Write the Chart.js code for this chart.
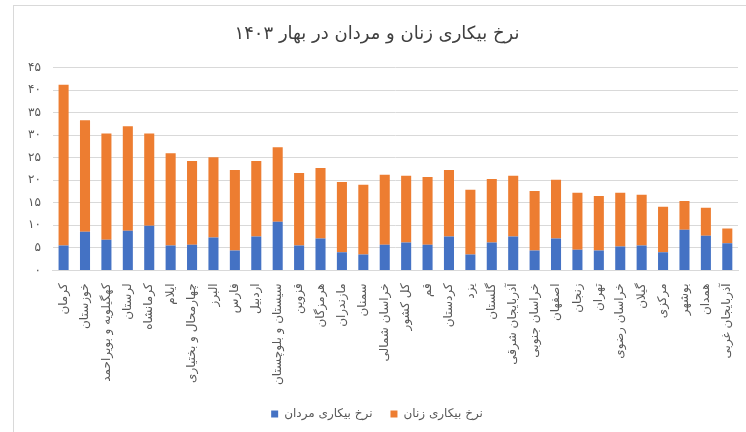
<!DOCTYPE html>
<html lang="fa">
<head>
    <meta charset="UTF-8">
    <title>نرخ بیکاری زنان و مردان در بهار ۱۴۰۳</title>
    <script src="https://cdn.jsdelivr.net/npm/chart.js"></script>
    <style>
        body { margin: 0; background: #fff; }
        #frame {
            position: absolute; left: 13px; top: 5px;
            width: 733px; height: 427px;
            border-left: 1px solid #d9d9d9; border-top: 1px solid #d9d9d9;
        }
    </style>
</head>
<body>
    <div id="frame"><canvas id="nerkhChart"></canvas></div>

    <script>
        // استان ها
        const ostanha = ['کرمان', 'خوزستان', 'کهگیلویه و بویراحمد', 'لرستان', 'کرمانشاه', 'ایلام',
            'چهارمحال و بختیاری', 'البرز', 'فارس', 'اردبیل', 'سیستان و بلوچستان', 'قزوین', 'هرمزگان',
            'مازندران', 'سمنان', 'خراسان شمالی', 'کل کشور', 'قم', 'کردستان', 'یزد', 'گلستان',
            'آذربایجان شرقی', 'خراسان جنوبی', 'اصفهان', 'زنجان', 'تهران', 'خراسان رضوی', 'گیلان',
            'مرکزی', 'بوشهر', 'همدان', 'آذربایجان غربی'];

        // نرخ بیکاری مردان
        const mardan = [5.5, 8.6, 6.8, 8.8, 9.9, 5.5, 5.7, 7.3, 4.4, 7.5, 10.8, 5.5, 7.1,
            4.0, 3.5, 5.7, 6.2, 5.7, 7.5, 3.5, 6.2, 7.5, 4.4, 7.1, 4.6, 4.4, 5.3, 5.5,
            4.0, 9.0, 7.7, 6.0];

        // نرخ بیکاری زنان (روی ستون مردان)
        const zanan = [35.7, 24.7, 23.6, 23.2, 20.5, 20.5, 18.6, 17.8, 17.9, 16.8, 16.5, 16.1, 15.6,
            15.6, 15.5, 15.5, 14.8, 15.0, 14.8, 14.4, 14.1, 13.5, 13.2, 13.0, 12.6, 12.1, 11.9, 11.3,
            10.1, 6.4, 6.2, 3.3];

        const tickha = [0, 5, 10, 15, 20, 25, 30, 35, 40, 45];

        const faDigits = '۰۱۲۳۴۵۶۷۸۹';
        function beFarsi(n) {
            return String(n).replace(/\d/g, d => faDigits[d]);
        }

        const fontFa = '"DejaVu Sans", sans-serif';
        Chart.defaults.font.family = fontFa;
        Chart.defaults.color = '#595959';

        const ctx = document.getElementById('nerkhChart').getContext('2d');
        new Chart(ctx, {
            type: 'bar',
            data: {
                labels: ostanha,
                datasets: [{
                    label: 'نرخ بیکاری مردان',
                    data: mardan,
                    backgroundColor: '#4472C4'
                }, {
                    label: 'نرخ بیکاری زنان',
                    data: zanan,
                    backgroundColor: '#ED7D31'
                }]
            },
            options: {
                responsive: true,
                maintainAspectRatio: false,
                animation: false,
                layout: { padding: { left: 2, right: 9, top: 6, bottom: 3 } },
                datasets: {
                    bar: { barPercentage: 0.47, categoryPercentage: 1 }
                },
                scales: {
                    x: {
                        stacked: true,
                        grid: { display: false },
                        border: { color: '#d9d9d9' },
                        ticks: {
                            autoSkip: false,
                            minRotation: 90,
                            maxRotation: 90,
                            font: { size: 12 },
                            padding: 5
                        }
                    },
                    y: {
                        stacked: true,
                        min: 0,
                        max: 45,
                        afterBuildTicks: axis => {
                            axis.ticks = tickha.map(v => ({ value: v }));
                        },
                        grid: { color: '#d9d9d9', drawTicks: false },
                        border: { display: false },
                        ticks: {
                            font: { size: 12 },
                            padding: 12,
                            callback: v => beFarsi(v)
                        }
                    }
                },
                plugins: {
                    title: {
                        display: true,
                        text: 'نرخ بیکاری زنان و مردان در بهار ۱۴۰۳',
                        font: { size: 18, weight: 'normal' },
                        color: '#404040',
                        padding: { top: 12, bottom: 22 }
                    },
                    legend: {
                        position: 'bottom',
                        labels: {
                            boxWidth: 7,
                            boxHeight: 7,
                            padding: 18,
                            font: { size: 12 }
                        }
                    },
                    tooltip: { enabled: false }
                }
            }
        });
    </script>
</body>
</html>
